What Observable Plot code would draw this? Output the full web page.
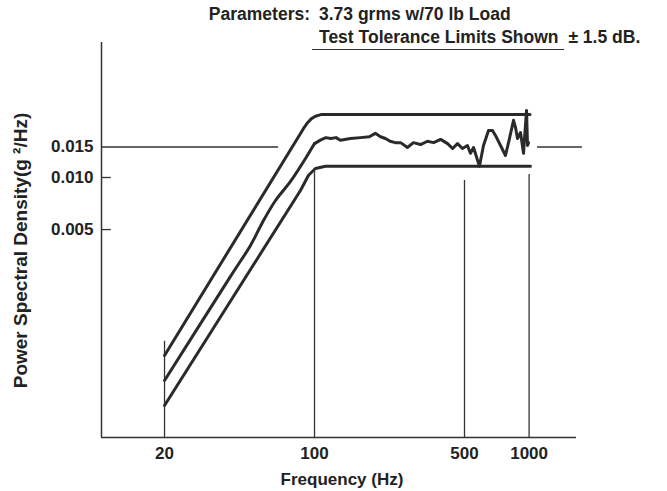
<!DOCTYPE html>
<html><head><meta charset="utf-8">
<script src="https://cdn.jsdelivr.net/npm/d3@7"></script>
<script src="https://cdn.jsdelivr.net/npm/@observablehq/plot@0.6"></script>
<style>
body{margin:0;background:#fff;}
#wrap{position:relative;width:667px;height:491px;font-family:"Liberation Sans",Arial,sans-serif;color:#222;}
.t{position:absolute;font-weight:bold;font-size:17.5px;line-height:17px;white-space:pre;}
#ylab{font-size:19px;left:-180px;top:242px;width:400px;text-align:center;transform:rotate(-90deg);transform-origin:200px 8.5px;}
#xlab{font-size:17px;left:142px;top:471px;width:400px;text-align:center;}
.ul{display:inline-block;border-bottom:1.5px solid #333;padding:0 5px 3px 7px;margin-left:-7px;}
</style></head><body>
<div id="wrap">
<div class="t" style="left:0;width:310px;text-align:right;top:6px">Parameters:</div>
<div class="t" style="left:319px;top:6px">3.73 grms w/70 lb Load</div>
<div class="t" style="left:319px;top:29px"><span class="ul">Test Tolerance Limits Shown</span> ± 1.5 dB.</div>
<div class="t" id="ylab">Power Spectral Density(g ²/Hz)</div>
<div class="t" id="xlab">Frequency (Hz)</div>
<div id="chart" style="position:absolute;left:0;top:0"></div>
</div>
<script>
// axis domains (Hz, g^2/Hz)
const xDomain = [10.17, 1663];
const yDomain = [0.000314, 0.0603];
const xTicks = [20, 100, 500, 1000];
const yTicks = [0.015, 0.010, 0.005];

// tolerance limits (+1.5 dB / -1.5 dB)
const upperF = [20, 88.9, 93, 96.8, 101, 107, 1010];
const upperV = [0.000936, 0.0192, 0.0208, 0.0219, 0.0226, 0.0231, 0.0231];
const lowerF = [20, 86, 93.8, 101, 112.5, 1015];
const lowerV = [0.000481, 0.00841, 0.0103, 0.01127, 0.0116, 0.0116];

// measured control spectrum: ramp section and plateau section
const rampF = [20, 40.6, 50.3, 57.2, 65.8, 77.3, 90.8, 100];
const rampV = [0.000671, 0.00268, 0.00405, 0.0055, 0.00736, 0.00948, 0.01288, 0.0157];
const measF = [100, 107, 113, 119, 126, 132, 147, 164, 180, 192, 203, 214, 225, 238, 252, 271, 289, 312, 336, 359, 387, 417, 440, 464, 489, 516, 533, 551, 587, 613, 647, 675, 697, 736, 776, 802, 846, 864, 883, 912, 942, 952, 973, 983, 994];
const measV = [0.0157, 0.0165, 0.0170, 0.0168, 0.0170, 0.0164, 0.0168, 0.0170, 0.0172, 0.0180, 0.0172, 0.0168, 0.0162, 0.0159, 0.0159, 0.0149, 0.0159, 0.0155, 0.0162, 0.0159, 0.0166, 0.0157, 0.0147, 0.0157, 0.0147, 0.0153, 0.0138, 0.0149, 0.0116, 0.0153, 0.0187, 0.0187, 0.0175, 0.0153, 0.0134, 0.0159, 0.0214, 0.0195, 0.0168, 0.0182, 0.0138, 0.0168, 0.0244, 0.0153, 0.0159];

// vertical reference lines (frequency, top value)
const gridF = [20, 100, 500, 1000];
const gridTop = [0.00113, 0.0108, 0.0096, 0.0104];

// 0.015 reference line segments
const refStart = [10.17, 1094];
const refEnd = [68, 1772];
const refLevel = 0.015;
// short inward ticks
const shortTicks = [0.010, 0.005];
const shortTickEnd = 11.3;

const toRows = (fs, vs) => fs.map((f, i) => ({f, v: vs[i]}));
const upper = toRows(upperF, upperV);
const lower = toRows(lowerF, lowerV);
const ramp = toRows(rampF, rampV);
const meas = toRows(measF, measV);
const grid = toRows(gridF, gridTop);
const refs = refStart.map((s, i) => ({s, e: refEnd[i]}));

const ink = "#2a2a2a";
const chart = Plot.plot({
  width: 667, height: 491,
  marginLeft: 101, marginRight: 91, marginTop: 42, marginBottom: 54,
  x: {type: "log", domain: xDomain, axis: null},
  y: {type: "log", domain: yDomain, axis: null},
  style: {fontFamily: "Liberation Sans, Arial, sans-serif", fontSize: "17px", fontWeight: "bold", color: "#222", background: "transparent"},
  marks: [
    Plot.ruleX(grid, {x: "f", y1: yDomain[0], y2: "v", stroke: "#333", strokeWidth: 1.3}),
    Plot.ruleY(refs, {y: () => refLevel, x1: "s", x2: "e", stroke: "#333", strokeWidth: 1.3}),
    Plot.ruleY(shortTicks, {y: d => d, x1: xDomain[0], x2: shortTickEnd, stroke: "#333", strokeWidth: 1.3}),
    Plot.ruleX([xDomain[0]], {y1: yDomain[0], y2: yDomain[1], stroke: "#333", strokeWidth: 1.5}),
    Plot.ruleY([yDomain[0]], {x1: xDomain[0], x2: xDomain[1], stroke: "#333", strokeWidth: 1.5}),
    Plot.line(upper, {x: "f", y: "v", stroke: ink, strokeWidth: 3, strokeLinejoin: "round"}),
    Plot.line(lower, {x: "f", y: "v", stroke: ink, strokeWidth: 3, strokeLinejoin: "round"}),
    Plot.line(ramp, {x: "f", y: "v", stroke: ink, strokeWidth: 3, curve: "catmull-rom", strokeLinejoin: "round"}),
    Plot.line(meas, {x: "f", y: "v", stroke: ink, strokeWidth: 3, strokeLinejoin: "round"}),
    Plot.text(xTicks, {x: d => d, y: () => yDomain[0], dy: 16, text: d => String(d), fontSize: 17, fontWeight: "bold", fill: "#222"}),
    Plot.text(yTicks, {y: d => d, x: () => xDomain[0], dx: -8, textAnchor: "end", text: d => d3.format(".3f")(d), fontSize: 17, fontWeight: "bold", fill: "#222"})
  ]
});
document.getElementById("chart").appendChild(chart);
</script>
</body></html>
